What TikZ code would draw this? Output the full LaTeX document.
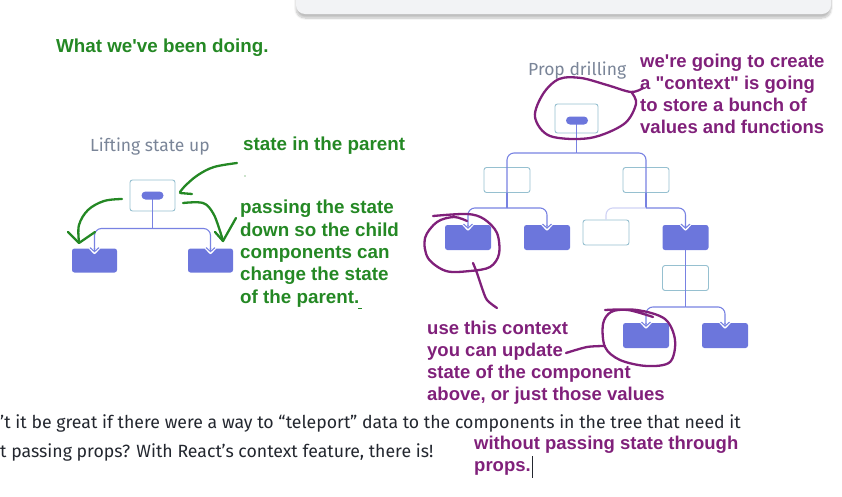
\documentclass[tikz,border=0pt]{standalone}
\usepackage{fontspec}
\setmainfont{Liberation Sans}[Ligatures=TeXOff]
\newfontfamily\docfont{Fira Sans}
\usetikzlibrary{positioning, arrows.meta, shadows.blur, calc}
\definecolor{CompFill}{RGB}{108,118,220}
\definecolor{HostEdge}{RGB}{150,192,208}
\definecolor{WireColor}{RGB}{120,130,226}
\definecolor{LabelGray}{RGB}{122,133,152}
\definecolor{NoteGreen}{RGB}{36,136,36}
\definecolor{NotePurple}{RGB}{128,32,122}
\definecolor{PanelGray}{RGB}{242,243,245}
\definecolor{BodyText}{RGB}{35,39,47}

\tikzset{
  host/.style={draw=HostEdge, fill=white, line width=0.9pt, rounded corners=2.5pt,
    inner sep=0pt, minimum width=46pt, minimum height=25pt},
  comp/.style={fill=CompFill, rounded corners=2.5pt, inner sep=0pt,
    minimum width=46pt, minimum height=25pt},
  pill/.style={fill=CompFill, rounded corners=4pt, inner sep=0pt,
    minimum width=22pt, minimum height=8pt},
  wire/.style={draw=WireColor, line width=1.1pt},
  feed/.style={wire, rounded corners=7pt,
    -{Straight Barb[length=4pt, width=9pt]}},
  treelabel/.style={text=LabelGray, font=\docfont\fontsize{17.5}{20}\selectfont,
    inner sep=0pt, anchor=base west},
  greennote/.style={text=NoteGreen, font=\bfseries\fontsize{18.8}{22.3}\selectfont,
    inner sep=0pt, align=left},
  purplenote/.style={text=NotePurple, font=\bfseries\fontsize{18.5}{22}\selectfont,
    inner sep=0pt, align=left},
  ink/.style={line width=2.3pt, line cap=round, line join=round},
  bodyline/.style={text=BodyText, font=\docfont\fontsize{17.7}{20}\selectfont,
    inner sep=0pt, anchor=base west}
}
% white notch under the arrow tip on a filled component
\newcommand{\notchmark}[1]{%
  \draw[white, line width=3.4pt, line cap=round, line join=round]
    ($(#1.north)+(-4.5,-1)$) -- ($(#1.north)+(0,4)$) -- ($(#1.north)+(4.5,-1)$);}

\begin{document}
\begin{tikzpicture}[x=1pt,y=-1pt]
  \useasboundingbox (0,0) rectangle (842,496);

  % panel at the top
  \fill[PanelGray, rounded corners=9pt,
    blur shadow={shadow xshift=0pt, shadow yshift=-4pt, shadow blur steps=8, shadow opacity=25}]
    (296,-30) rectangle (831,14);

  \node[greennote, anchor=base west] (doing) at (56,52) {What we've been doing.};

  % lifting state up
  \begin{scope}
    \node[treelabel] (liftlabel) at (90,151) {Lifting state up};
    \node[host, minimum width=45pt, minimum height=31pt] (lift) at (152.5,195.5) {};
    \node[comp, minimum width=45pt, minimum height=24pt] (liftA) at (94.5,260.5) {};
    \node[comp, minimum width=45pt, minimum height=24pt] (liftB) at (210.5,260.5) {};
    \notchmark{liftA}
    \notchmark{liftB}
    \draw[wire] (lift.center) -- ++(0,33) coordinate (liftJ);
    \foreach \k in {liftA,liftB}
      \draw[feed] (liftJ) -| ([yshift=-4pt]\k.north);
    \node[pill] (liftpill) at (lift.center) {};
  \end{scope}

  % prop drilling
  \begin{scope}
    \node[treelabel] (proplabel) at (528,75) {Prop drilling};
    \node[host, minimum width=43pt, minimum height=29pt] (root) at (576.5,118.5) {};
    \node[host] (midA) at (507,180) {};
    \node[host] (midB) at (646,180) {};
    \node[comp] (kidA) at (468,237.5) {};
    \node[comp] (kidB) at (547,237.5) {};
    \node[host] (spare) at (606,232.5) {};
    \node[comp] (kidD) at (685.5,237.5) {};
    \node[host] (midC) at (685.5,278) {};
    \node[comp] (leafA) at (646,335.5) {};
    \node[comp] (leafB) at (725,335.5) {};
    \foreach \k in {kidA,kidB,kidD,leafA,leafB}
      {\notchmark{\k}}

    \draw[wire] (root.center) -- ++(0,34.5) coordinate (rootJ);
    \foreach \m in {midA,midB}
      \draw[wire, rounded corners=7pt] (rootJ) -| (\m.north) -- (\m.south);
    \draw[wire] (midA.south) -- ++(0,15) coordinate (midAJ);
    \draw[wire] (midB.south) -- ++(0,15) coordinate (midBJ);
    \foreach \k in {kidA,kidB}
      \draw[feed] (midAJ) -| ([yshift=-4pt]\k.north);
    \draw[wire, draw=WireColor!35, rounded corners=7pt] (midBJ) -| (spare.north);
    \draw[feed] (midBJ) -| ([yshift=-4pt]kidD.north);
    \draw[wire] (kidD.south) -- (midC.north) -- (midC.south) -- ++(0,16) coordinate (midCJ);
    \foreach \k in {leafA,leafB}
      \draw[feed] (midCJ) -| ([yshift=-4pt]\k.north);
    \node[pill] (rootpill) at (577,120.5) {};
  \end{scope}

  % green notes
  \node[greennote, anchor=base west] (parentnote) at (243,150) {state in the parent};
  \node[greennote, anchor=north west] (passnote) at (240,200)
    {passing the state\\down so the child\\components can\\change the state\\of the parent.};
  \draw[NoteGreen, ink] plot[smooth, tension=0.6] coordinates
    {(237,163) (214,167) (198,175) (186,185) (180,192)};
  \draw[NoteGreen, ink] (180,193) -- (192,194);
  \draw[NoteGreen, ink] plot[smooth, tension=0.6] coordinates
    {(122,199) (104,201) (88,210) (79,225) (79,242)};
  \draw[NoteGreen, ink] (68,232) -- (79,243) -- (95,232);
  \draw[NoteGreen, ink] plot[smooth, tension=0.6] coordinates
    {(183,203) (203,203) (213,213) (219,228) (223,241)};
  \draw[NoteGreen, ink] (215,232) -- (223,241) -- (236,218);
  \fill[NoteGreen] (245,176) circle (0.7);
  \fill[NoteGreen] (358,308) rectangle (362,309);

  % purple notes
  \node[purplenote, anchor=north west] (contextnote) at (640,54)
    {we're going to create\\a "context" is going\\to store a bunch of\\values and functions};
  \node[purplenote, anchor=north west] (usenote) at (427,321)
    {use this context\\you can update\\state of the component\\above, or just those values};
  \node[purplenote, anchor=north west] (propsnote) at (474,436)
    {without passing state through\\props.};
  \draw[BodyText, line width=0.8pt] (532,456) -- (532,478);

  \draw[NotePurple, ink] plot[smooth, tension=0.55] coordinates
    {(643,88) (631,92) (607,85) (581,78) (559,79) (543,94) (535,117)
     (550,136) (590,138) (624,124) (636,104) (632,93)};
  \draw[NotePurple, ink] plot[smooth, tension=0.55] coordinates
    {(433,216) (467,214) (484,219) (497,233) (499,254) (490,267) (470,271)
     (446,271) (428,258) (425,238) (437,222) (454,217) (467,221)};
  \draw[NotePurple, ink] plot[smooth, tension=0.5] coordinates
    {(473,263) (477,273) (482,288) (487,300) (497,308)};
  \draw[NotePurple, ink] plot[smooth, tension=0.55] coordinates
    {(605,310) (637,310) (665,319) (675,340) (670,362) (647,366) (620,360)
     (605,347) (603,324) (611,312) (628,310) (653,317)};
  \draw[NotePurple, ink] plot[smooth, tension=0.5] coordinates
    {(566,353) (587,347) (605,346)};

  % page text under the pictures
  \node[bodyline] (lineone) at (0,428)
    {’t it be great if there were a way to “teleport” data to the components in the tree that need it};
  \node[bodyline] (linetwo) at (0,457)
    {t passing props? With React’s context feature, there is!};
\end{tikzpicture}
\end{document}
